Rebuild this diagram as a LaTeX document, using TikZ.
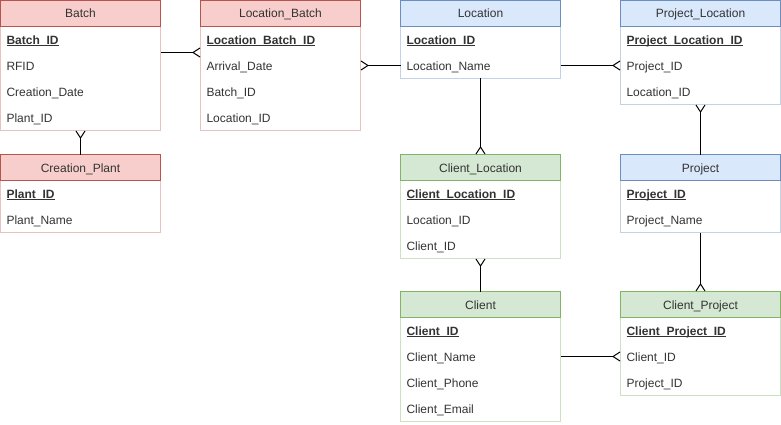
\documentclass[tikz,border=0pt]{standalone}
\usepackage{fontspec}
\setmainfont{Liberation Sans}
\usepackage{tikz}
\usetikzlibrary{arrows.meta}
\usepackage{xcolor}
\definecolor{myred}{HTML}{B85450}
\definecolor{myredfill}{HTML}{F8CECC}
\definecolor{myblue}{HTML}{6C8EBF}
\definecolor{mybluefill}{HTML}{DAE8FC}
\definecolor{mygreen}{HTML}{82B366}
\definecolor{mygreenfill}{HTML}{D5E8D4}
\colorlet{mytext}{black!80}
\newsavebox{\keybox}
\newcommand{\keyfield}[1]{\sbox{\keybox}{\textbf{#1}}\rlap{\rule[-1.8pt]{\wd\keybox}{0.9pt}}\usebox{\keybox}}
\tikzset{
  >=latex, % default arrow head
  head/.style={line width=1pt,minimum width=160pt,minimum height=26pt,inner sep=0pt,outer sep=0pt,
    anchor=north west,text=mytext,text height=11.5pt,text depth=2.5pt,font=\fontsize{12}{14}\selectfont},
  head red/.style={head,draw=myred,fill=myredfill},
  head blue/.style={head,draw=myblue,fill=mybluefill},
  head green/.style={head,draw=mygreen,fill=mygreenfill},
  field/.style={minimum width=160pt,minimum height=26pt,inner sep=0pt,outer sep=0pt,text width=148pt,
    align=left,anchor=north west,text=mytext,text height=12pt,text depth=2pt,font=\fontsize{12}{14}\selectfont},
  body red/.style={line width=1pt,draw=myred!35},
  body blue/.style={line width=1pt,draw=myblue!40},
  body green/.style={line width=1pt,draw=mygreen!40}
}

\begin{document}
\begin{tikzpicture}[x=1pt, y=-1pt]

% Styles
\tikzstyle{connect} = [line width=1pt, black]
\tikzstyle{crow} = [connect, -{Straight Barb[reversed, length=7pt, width=9pt, line width=1pt]}]

\useasboundingbox (-0.5,-0.5) rectangle (780.5,424.5);

% Batch
\foreach \f [count=\i] in {\keyfield{Batch\_ID}, RFID, Creation\_Date, Plant\_ID}
  \node[field] (batch-\i) at (0, 26*\i) {\f};
\draw[body red] (batch-1.north west) rectangle (batch-4.south east);
\node[head red] (batch) at (0,0) {Batch};

% Location_Batch
\foreach \f [count=\i] in {\keyfield{Location\_Batch\_ID}, Arrival\_Date, Batch\_ID, Location\_ID}
  \node[field] (lbatch-\i) at (200, 26*\i) {\f};
\draw[body red] (lbatch-1.north west) rectangle (lbatch-4.south east);
\node[head red] (lbatch) at (200,0) {Location\_Batch};

% Location
\foreach \f [count=\i] in {\keyfield{Location\_ID}, Location\_Name}
  \node[field] (loc-\i) at (400, 26*\i) {\f};
\draw[body blue] (loc-1.north west) rectangle (loc-2.south east);
\node[head blue] (loc) at (400,0) {Location};

% Project_Location
\foreach \f [count=\i] in {\keyfield{Project\_Location\_ID}, Project\_ID, Location\_ID}
  \node[field] (ploc-\i) at (620, 26*\i) {\f};
\draw[body blue] (ploc-1.north west) rectangle (ploc-3.south east);
\node[head blue] (ploc) at (620,0) {Project\_Location};

% Creation_Plant
\foreach \f [count=\i] in {\keyfield{Plant\_ID}, Plant\_Name}
  \node[field] (plant-\i) at (0, 154 + 26*\i) {\f};
\draw[body red] (plant-1.north west) rectangle (plant-2.south east);
\node[head red] (plant) at (0,154) {Creation\_Plant};

% Client_Location
\foreach \f [count=\i] in {\keyfield{Client\_Location\_ID}, Location\_ID, Client\_ID}
  \node[field] (cloc-\i) at (400, 154 + 26*\i) {\f};
\draw[body green] (cloc-1.north west) rectangle (cloc-3.south east);
\node[head green] (cloc) at (400,154) {Client\_Location};

% Project
\foreach \f [count=\i] in {\keyfield{Project\_ID}, Project\_Name}
  \node[field] (proj-\i) at (620, 154 + 26*\i) {\f};
\draw[body blue] (proj-1.north west) rectangle (proj-2.south east);
\node[head blue] (proj) at (620,154) {Project};

% Client
\foreach \f [count=\i] in {\keyfield{Client\_ID}, Client\_Name, Client\_Phone, Client\_Email}
  \node[field] (client-\i) at (400, 291 + 26*\i) {\f};
\draw[body green] (client-1.north west) rectangle (client-4.south east);
\node[head green] (client) at (400,291) {Client};

% Client_Project
\foreach \f [count=\i] in {\keyfield{Client\_Project\_ID}, Client\_ID, Project\_ID}
  \node[field] (cproj-\i) at (620, 291 + 26*\i) {\f};
\draw[body green] (cproj-1.north west) rectangle (cproj-3.south east);
\node[head green] (cproj) at (620,291) {Client\_Project};

% Relations
\draw[crow] (batch-1.south east) -- (lbatch-1.south west);
\draw[crow] (loc-2.west) -- (lbatch-2.east);
\draw[crow] (loc-2.east) -- (ploc-2.west);
\draw[crow] (loc-2.south) -- (cloc.north);
\draw[crow] (plant.north) -- (batch-4.south);
\draw[crow] (proj.north) -- (ploc-3.south);
\draw[crow] (client.north) -- (cloc-3.south);
\draw[crow] (proj-2.south) -- (cproj.north);
\draw[crow] (client-2.east) -- (cproj-2.west);

\end{tikzpicture}
\end{document}
